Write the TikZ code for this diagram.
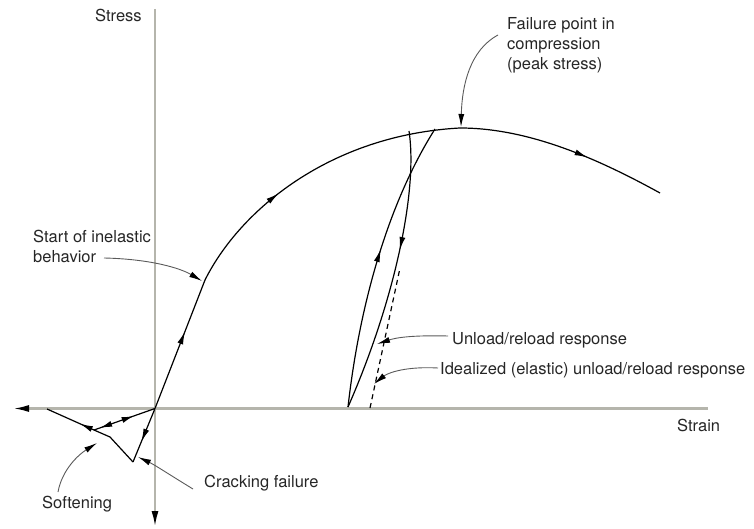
\documentclass[tikz,border=0pt]{standalone}
\usepackage{fontspec}
\setmainfont{TeX Gyre Heros}
\usetikzlibrary{arrows.meta,decorations.markings}
\definecolor{axisgray}{HTML}{B5B5AC}
\definecolor{leadergray}{HTML}{5A5A5A}
\tikzset{
  curve/.style={black,line width=1.2pt},
  axis/.style={axisgray,line width=2.2pt},
  leader/.style={leadergray,line width=0.9pt,-{Latex[length=13pt,width=6pt,color=black]}},
  lbl/.style={inner sep=0pt,anchor=base west,font=\fontsize{16.5}{20}\selectfont,text=black!85},
  tipmark/.style={postaction={decorate},decoration={markings,mark=at position #1 with {\arrow{Latex[length=13pt,width=6pt]}}}},
  twomark/.style 2 args={postaction={decorate},decoration={markings,
      mark=at position #1 with {\arrowreversed{Latex[length=12pt,width=6pt]}},
      mark=at position #2 with {\arrow{Latex[length=12pt,width=6pt]}}}},
}
\begin{document}
\begin{tikzpicture}[x=1pt,y=-1pt]
\useasboundingbox (0,0) rectangle (754,529);

% key points
\coordinate (O) at (155,408.5);
\coordinate (Vtop) at (155,9);
\coordinate (Vbot) at (155,527);
\coordinate (Hleft) at (13,408.5);
\coordinate (Hright) at (708,408.5);
\coordinate (K) at (205,280);
\coordinate (P) at (460,128);
\coordinate (E) at (660,193);
\coordinate (U) at (409,131);
\coordinate (R) at (435,129);
\coordinate (B) at (348,407);
\coordinate (D1) at (370,408);
\coordinate (D2) at (400,268);
\coordinate (C) at (133,462);
\coordinate (S1) at (110,437);
\coordinate (S2) at (94,430);
\coordinate (S3) at (47,409);

% axes
\draw[axis,-{Latex[length=16pt,width=7pt,color=black]}] (Vtop) -- (Vbot);
\draw[axis,-{Latex[length=16pt,width=7pt,color=black]}] (Hright) -- (Hleft);

% compression curve
\draw[curve,tipmark=0.6] (O) -- (K);
\draw[curve,tipmark=0.37] (K) .. controls (240,210) and (330,135) .. (P);
\draw[curve,tipmark=0.62] (P) .. controls (530,128) and (600,160) .. (E);

% unload / reload
\draw[curve,tipmark=0.42] (U) .. controls (418,190) and (395,300) .. (B);
\draw[curve,tipmark=0.55] (B) .. controls (360,300) and (390,200) .. (R);
\draw[black,line width=1.2pt,dash pattern=on 5pt off 4pt] (D1) -- (D2);

% tension side
\draw[curve,tipmark=0.62] (O) -- (C);
\draw[curve] (C) -- (S1) -- (S2);
\draw[curve,tipmark=0.3] (S2) -- (S3);
\draw[curve,twomark={0.1}{0.65}] (S2) -- (O);

% labels
\node[lbl] (stress) at (95,22) {Stress};
\node[lbl] (strain) at (677,431) {Strain};
\node[lbl] (fail1) at (507,30) {Failure point in};
\node[lbl] (fail2) at (507,50) {compression};
\node[lbl] (fail3) at (507,70) {(peak stress)};
\node[lbl] (inel1) at (33,242) {Start of inelastic};
\node[lbl] (inel2) at (33,262) {behavior};
\node[lbl] (unl) at (452,344) {Unload/reload response};
\node[lbl] (ideal) at (440,374) {Idealized (elastic) unload/reload response};
\node[lbl] (crack) at (204,487) {Cracking failure};
\node[lbl] (soft) at (42,508) {Softening};

% leaders
\coordinate (lf) at (498,35);
\coordinate (li) at (104,258);
\coordinate (lu) at (448,336);
\coordinate (ld) at (438,368);
\coordinate (lc) at (193,489);
\coordinate (ls) at (58,492);
\draw[leader] (lf) .. controls (470,50) and (462,85) .. (461,127);
\draw[leader] (li) .. controls (150,259) and (180,268) .. (202,281);
\draw[leader] (lu) .. controls (410,335) and (395,338) .. (377,344);
\draw[leader] (ld) .. controls (400,366) and (385,375) .. (374,384);
\draw[leader] (lc) .. controls (170,475) and (155,465) .. (138,457);
\draw[leader] (ls) .. controls (62,470) and (78,455) .. (97,443);
\end{tikzpicture}
\end{document}
